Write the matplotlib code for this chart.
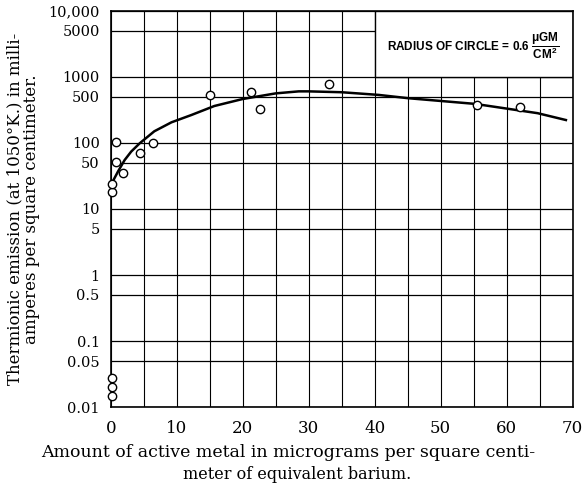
#!/usr/bin/env python3
"""Thermionic emission vs amount of active metal (barium), log scale."""

import matplotlib
matplotlib.use('Agg')
import matplotlib.pyplot as plt
from matplotlib.patches import Rectangle
from matplotlib.ticker import FixedLocator, FixedFormatter, MultipleLocator

# measured points (open circles)
pts_x = [0.15, 0.15, 0.15, 0.2, 0.2, 0.75, 0.75, 1.8, 4.4, 6.4,
         15.1, 21.3, 22.6, 33.1, 55.5, 62.1]
pts_y = [0.015, 0.020, 0.028, 18, 23.6, 52, 102, 35, 71, 100,
         525, 590, 330, 775, 375, 350]

# smooth curve drawn through the data
curve_x = [0.2, 1.1, 2.1, 3.1, 4.4, 6.6, 9.2, 12.2, 15.7, 20, 25, 28.5,
           30, 35, 40.6, 45.1, 55.2, 64.7, 69]
curve_y = [25, 37, 55, 74, 99, 150, 205, 264, 362, 462, 562, 603,
           603, 585, 533, 475, 390, 282, 222]

y_ticks = [0.01, 0.05, 0.1, 0.5, 1, 5, 10, 50, 100, 500, 1000, 5000, 10000]
y_labels = ['0.01', '0.05', '0.1', '0.5', '1', '5', '10', '50', '100',
            '500', '1000', '5000', '10,000']
x_ticks = [0, 10, 20, 30, 40, 50, 60, 70]

# legend box in the upper right corner
box_x = (40, 70)
box_y = (1000, 10000)

plt.rcParams['mathtext.fontset'] = 'custom'
plt.rcParams['mathtext.bf'] = 'Liberation Sans:bold'
plt.rcParams['mathtext.rm'] = 'Liberation Sans:bold'

fig = plt.figure(figsize=(5.83, 4.90), dpi=100)
ax = fig.add_axes([0.190, 0.169, 0.792, 0.809])

ax.set_yscale('log')
ax.set_xlim(0, 70)
ax.set_ylim(0.01, 10000)

ax.yaxis.set_major_locator(FixedLocator(y_ticks))
ax.yaxis.set_major_formatter(FixedFormatter(y_labels))
ax.yaxis.set_minor_locator(FixedLocator([]))
ax.xaxis.set_major_locator(FixedLocator(x_ticks))
ax.xaxis.set_minor_locator(MultipleLocator(5))

ax.set_axisbelow(True)
ax.grid(True, which='major', axis='y', color='black', lw=0.9)
ax.grid(True, which='both', axis='x', color='black', lw=0.8)

ax.tick_params(axis='both', which='both', length=0)
ax.tick_params(axis='y', pad=8)
ax.tick_params(axis='x', pad=9)
for lab in ax.get_yticklabels():
    lab.set_family('DejaVu Serif')
    lab.set_fontsize(10.5)
for lab in ax.get_xticklabels():
    lab.set_family('DejaVu Serif')
    lab.set_fontsize(12)

for sp in ax.spines.values():
    sp.set_color('black')
    sp.set_linewidth(1.2)

ax.add_patch(Rectangle((box_x[0], box_y[0]), box_x[1] - box_x[0],
                       box_y[1] - box_y[0], facecolor='white',
                       edgecolor='black', lw=1.0, zorder=2))
ax.text(55.0, 3000,
        r'RADIUS OF CIRCLE = 0.6 $\dfrac{\mathbf{\mu GM}}{\mathbf{CM^2}}$',
        family='Liberation Sans', fontweight='bold', fontsize=8.5,
        ha='center', va='center', zorder=3)

ax.plot(curve_x, curve_y, color='black', lw=1.8, zorder=3)
ax.plot(pts_x, pts_y, 'o', ms=6, mfc='white', mec='black', mew=1.0,
        zorder=4, clip_on=False)

ax.set_ylabel('Thermionic emission (at 1050°K.) in milli-\n'
              'amperes per square centimeter.',
              family='DejaVu Serif', fontsize=12, linespacing=0.95,
              labelpad=6)

fig.text(0.495, 0.076, 'Amount of active metal in micrograms per square centi-',
         family='DejaVu Serif', fontsize=12.5, ha='center', va='center')
fig.text(0.51, 0.031, 'meter of equivalent barium.',
         family='DejaVu Serif', fontsize=11.5, ha='center', va='center')

plt.savefig('out.png', dpi=100)
